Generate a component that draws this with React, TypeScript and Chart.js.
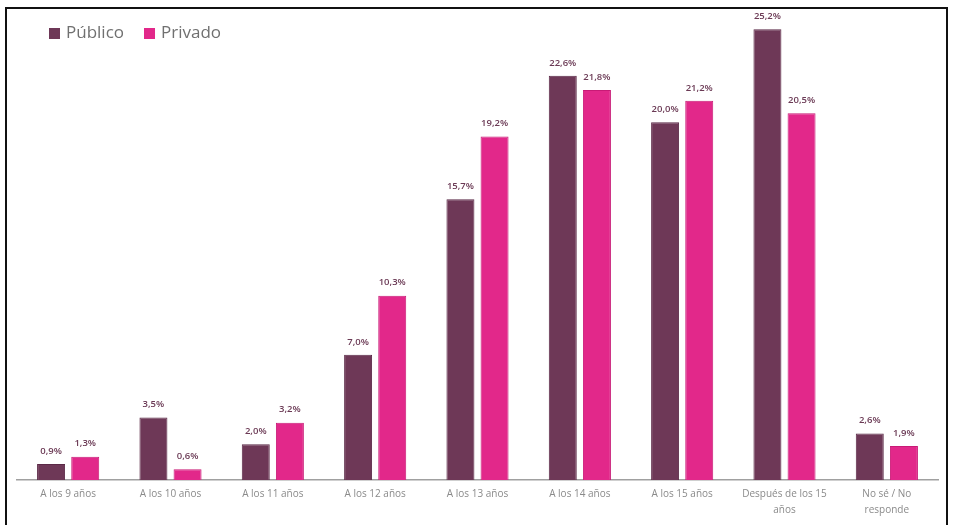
import React, { useEffect, useRef } from "react";
import { Chart, registerables } from "chart.js";

Chart.register(...registerables);

const categories: (string | string[])[] = [
  "A los 9 años",
  "A los 10 años",
  "A los 11 años",
  "A los 12 años",
  "A los 13 años",
  "A los 14 años",
  "A los 15 años",
  ["Después de los 15", "años"],
  ["No sé / No", "responde"],
];
const publico = [0.9, 3.5, 2.0, 7.0, 15.7, 22.6, 20.0, 25.2, 2.6];
const privado = [1.3, 0.6, 3.2, 10.3, 19.2, 21.8, 21.2, 20.5, 1.9];
const seriesNames = ["Público", "Privado"];
const seriesColors = ["#6e3857", "#e2288a"];
const seriesBorders = ["#5a2846", "#c81a76"];

const fmt = (v: number) => v.toFixed(1).replace(".", ",") + "%";

const valueLabels = {
  id: "valueLabels",
  afterDatasetsDraw(chart: any) {
    const ctx = chart.ctx;
    ctx.save();
    ctx.font = "600 9.5px 'Open Sans', sans-serif";
    ctx.fillStyle = "#6b3a55";
    ctx.textAlign = "center";
    ctx.textBaseline = "middle";
    chart.data.datasets.forEach((ds: any, di: number) => {
      const meta = chart.getDatasetMeta(di);
      meta.data.forEach((bar: any, i: number) => {
        ctx.fillText(fmt(ds.data[i]), bar.x, bar.y - 13);
      });
    });
    ctx.restore();
  },
};

const customLegend = {
  id: "customLegend",
  afterDraw(chart: any) {
    const ctx = chart.ctx;
    ctx.save();
    ctx.font = "17px 'Open Sans', sans-serif";
    ctx.textBaseline = "middle";
    ctx.textAlign = "left";
    let x = 49;
    const y = 33.5;
    chart.data.datasets.forEach((ds: any) => {
      ctx.fillStyle = ds.backgroundColor;
      ctx.fillRect(x, y - 5.5, 11, 11);
      ctx.fillStyle = "#707070";
      ctx.fillText(ds.label, x + 17, y);
      x += 17 + ctx.measureText(ds.label).width + 20;
    });
    ctx.restore();
  },
};

export default function App() {
  const ref = useRef<HTMLCanvasElement | null>(null);
  useEffect(() => {
    document.body.style.margin = "0";
    if (!ref.current) return;
    const chart = new Chart(ref.current, {
      type: "bar",
      data: {
        labels: categories,
        datasets: [
          {
            label: seriesNames[0],
            data: publico,
            backgroundColor: seriesColors[0],
            borderColor: seriesBorders[0],
            borderWidth: 1,
          },
          {
            label: seriesNames[1],
            data: privado,
            backgroundColor: seriesColors[1],
            borderColor: seriesBorders[1],
            borderWidth: 1,
          },
        ],
      },
      options: {
        animation: false,
        responsive: false,
        maintainAspectRatio: false,
        layout: { padding: { top: 15, left: 17, right: 15, bottom: 0 } },
        datasets: { bar: { categoryPercentage: 0.667, barPercentage: 0.82 } },
        plugins: {
          legend: { display: false },
          tooltip: { enabled: false },
        },
        scales: {
          x: {
            grid: { display: false, drawTicks: false },
            border: { display: true, color: "#a0a0a0", width: 1.5 },
            ticks: {
              color: "#8a8a8a",
              padding: 6,
              maxRotation: 0,
              autoSkip: false,
              font: { family: "'Open Sans', sans-serif", size: 10, lineHeight: 1.6 },
            },
            afterFit(scale: any) {
              scale.height = 45;
            },
          },
          y: {
            display: false,
            min: 0,
            max: 26,
          },
        },
      },
      plugins: [valueLabels, customLegend],
    });
    return () => chart.destroy();
  }, []);

  return (
    <div style={{ position: "relative", width: 953, height: 525, overflow: "hidden", background: "#fff" }}>
      <canvas ref={ref} width={953} height={525} style={{ position: "absolute", left: 0, top: 0 }} />
      <div
        style={{
          position: "absolute",
          left: 5,
          top: 7,
          width: 939,
          height: 540,
          border: "2px solid #111",
          boxSizing: "content-box",
          pointerEvents: "none",
        }}
      />
    </div>
  );
}
